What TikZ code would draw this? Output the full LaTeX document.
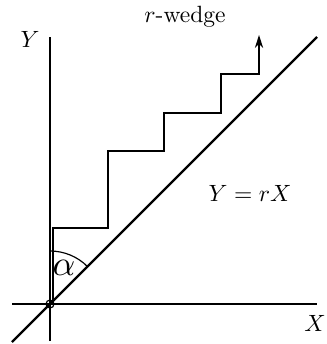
\documentclass[tikz,border=0pt]{standalone}
\usetikzlibrary{arrows.meta}
\begin{document}
\begin{tikzpicture}[x=0.425pt,y=-0.425pt,
  axis/.style={line width=0.5pt},
  diag/.style={line width=1pt},
  stair/.style={line width=0.5pt},
  lbl/.style={inner sep=0pt}]
\useasboundingbox (0,0) rectangle (326,344);
\coordinate (O) at (50,304);
\coordinate (Ytop) at (50,37);
\coordinate (Ybot) at (50,341);
\coordinate (Xl) at (12,304);
\coordinate (Xr) at (317,304);
\coordinate (Dl) at (12,342);
\coordinate (Dr) at (317,37);
\coordinate (S0) at (53,304);
\coordinate (Send) at (259,35);
\draw[axis] (Ybot) -- (Ytop);
\draw[axis] (Xl) -- (Xr);
\draw[diag] (Dl) -- (Dr);
\draw[axis] (O) circle (4);
\draw[stair,-{Stealth[length=5.5pt,width=3.5pt]}] (S0) |- (108,228) |- (164,151) |- (221,113) |- (259,74) -- (Send);
\draw[axis] (50,251) arc[start angle=-90,end angle=-45,radius=53];
\node[lbl,scale=1.5] (alpha) at (64,268) {$\alpha$};
\node[lbl] (ylab) at (30,39) {$Y$};
\node[lbl] (xlab) at (315,323) {$X$};
\node[lbl] (eq) at (250,193) {$Y=rX$};
\node[lbl] (wedge) at (185,17) {$r$-wedge};
\end{tikzpicture}
\end{document}
